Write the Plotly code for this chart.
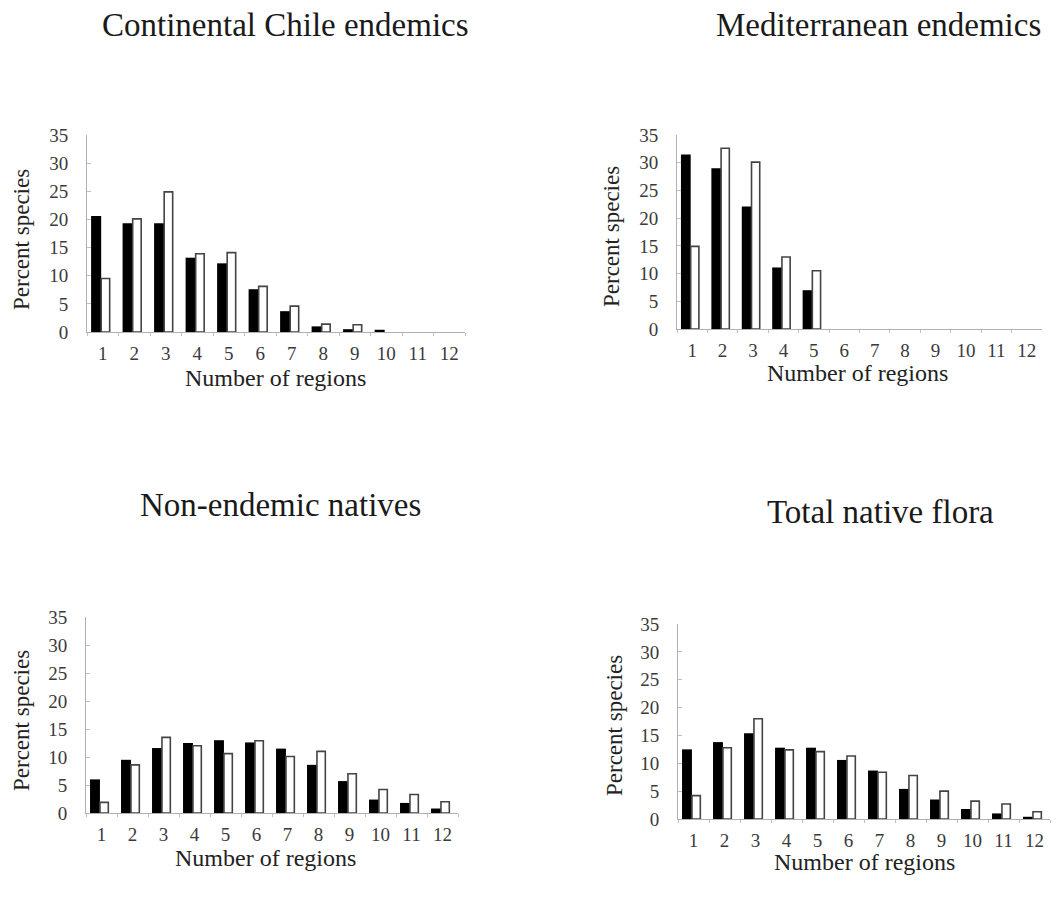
import plotly.graph_objects as go

regions = ["1", "2", "3", "4", "5", "6", "7", "8", "9", "10", "11", "12"]
y_ticks = [0, 5, 10, 15, 20, 25, 30, 35]

titles = ["Continental Chile endemics", "Mediterranean endemics",
          "Non-endemic natives", "Total native flora"]

chile_black = [20.6, 19.3, 19.3, 13.2, 12.2, 7.6, 3.7, 1.0, 0.5, 0.4, 0, 0]
chile_white = [9.5, 20.1, 24.9, 13.9, 14.1, 8.1, 4.6, 1.4, 1.3, 0, 0, 0]

medit_black = [31.5, 29.0, 22.1, 11.1, 7.0, 0, 0, 0, 0, 0, 0, 0]
medit_white = [14.9, 32.6, 30.1, 13.0, 10.5, 0, 0, 0, 0, 0, 0, 0]

nonend_black = [6.0, 9.5, 11.6, 12.5, 13.0, 12.6, 11.5, 8.6, 5.7, 2.4, 1.8, 0.8]
nonend_white = [1.9, 8.6, 13.5, 12.0, 10.6, 12.9, 10.1, 11.0, 7.0, 4.2, 3.3, 2.0]

total_black = [12.5, 13.8, 15.4, 12.8, 12.8, 10.6, 8.7, 5.4, 3.5, 1.8, 1.0, 0.4]
total_white = [4.2, 12.8, 18.0, 12.4, 12.1, 11.3, 8.4, 7.8, 5.0, 3.2, 2.7, 1.3]

panels = [(chile_black, chile_white), (medit_black, medit_white),
          (nonend_black, nonend_white), (total_black, total_white)]

W, H = 1057, 906

# pixel boxes: x0, x1, ytop(35), ybottom(0)
boxes = [(87, 465, 135, 332), (677, 1042, 135, 329),
         (86, 458, 617, 813), (678, 1050, 624, 819)]
title_pos = [(285, 25), (878, 25), (280, 505), (880, 512)]
xtitle_pos = [(275, 378), (857, 373), (265, 858), (865, 862)]
ytitle_pos = [(21, 240), (611, 237), (21, 721), (614, 726)]

FONT = "Liberation Serif, Times New Roman, serif"
fig = go.Figure()
layout = dict(width=W, height=H, autosize=False,
              margin=dict(l=0, r=0, t=0, b=0, pad=0, autoexpand=False),
              paper_bgcolor="white", plot_bgcolor="white", showlegend=False,
              barmode="overlay", font=dict(family=FONT, color="#222"))
annotations = []

for i, (blk, wht) in enumerate(panels):
    n = "" if i == 0 else str(i + 1)
    xa, ya = "x" + n, "y" + n
    fig.add_trace(go.Bar(x=regions, y=blk, xaxis=xa, yaxis=ya,
                         marker=dict(color="black", line=dict(width=0)),
                         offset=-0.37, width=0.32))
    fig.add_trace(go.Bar(x=regions, y=wht, xaxis=xa, yaxis=ya,
                         marker=dict(color="white",
                                     line=dict(color="#444",
                                               width=[1.6 if v > 0 else 0 for v in wht])),
                         offset=-0.05, width=0.27))
    x0, x1, yt, yb = boxes[i]
    layout["xaxis" + n] = dict(domain=[x0 / W, x1 / W], anchor=ya, type="category",
                               range=[-0.5, 11.5], showline=True, linecolor="#b0b0b0",
                               linewidth=1, ticks="outside", ticklen=3, tickcolor="#c0c0c0",
                               tickson="boundaries", showgrid=False, zeroline=False,
                               automargin=False,
                               tickfont=dict(family=FONT, size=19, color="#3a3a3a"),
                               ticklabelstandoff=4, fixedrange=True)
    layout["yaxis" + n] = dict(domain=[1 - yb / H, 1 - yt / H], anchor=xa,
                               range=[0, 35], tickvals=y_ticks, showline=True,
                               linecolor="#b0b0b0", linewidth=1, ticks="inside", ticklen=4,
                               tickcolor="#c0c0c0", showgrid=False, zeroline=False,
                               automargin=False,
                               tickfont=dict(family=FONT, size=19, color="#3a3a3a"),
                               ticklabelstandoff=14, fixedrange=True)
    tx, ty = title_pos[i]
    annotations.append(dict(text=titles[i], x=tx / W, y=1 - ty / H, xref="paper", yref="paper",
                            showarrow=False, xanchor="center", yanchor="middle",
                            font=dict(family=FONT, size=33, color="#1a1a1a")))
    ax_, ay_ = xtitle_pos[i]
    annotations.append(dict(text="Number of regions", x=ax_ / W, y=1 - ay_ / H, xref="paper",
                            yref="paper", showarrow=False, xanchor="center", yanchor="middle",
                            font=dict(family=FONT, size=24, color="#222")))
    px_, py_ = ytitle_pos[i]
    annotations.append(dict(text="Percent species", x=px_ / W, y=1 - py_ / H, xref="paper",
                            yref="paper", showarrow=False, xanchor="center", yanchor="middle",
                            textangle=-90, font=dict(family=FONT, size=23, color="#222")))

layout["annotations"] = annotations
fig.update_layout(**layout)
fig.write_html("out.html", config={"displayModeBar": False},
               post_script="document.body.style.margin='0px';")
